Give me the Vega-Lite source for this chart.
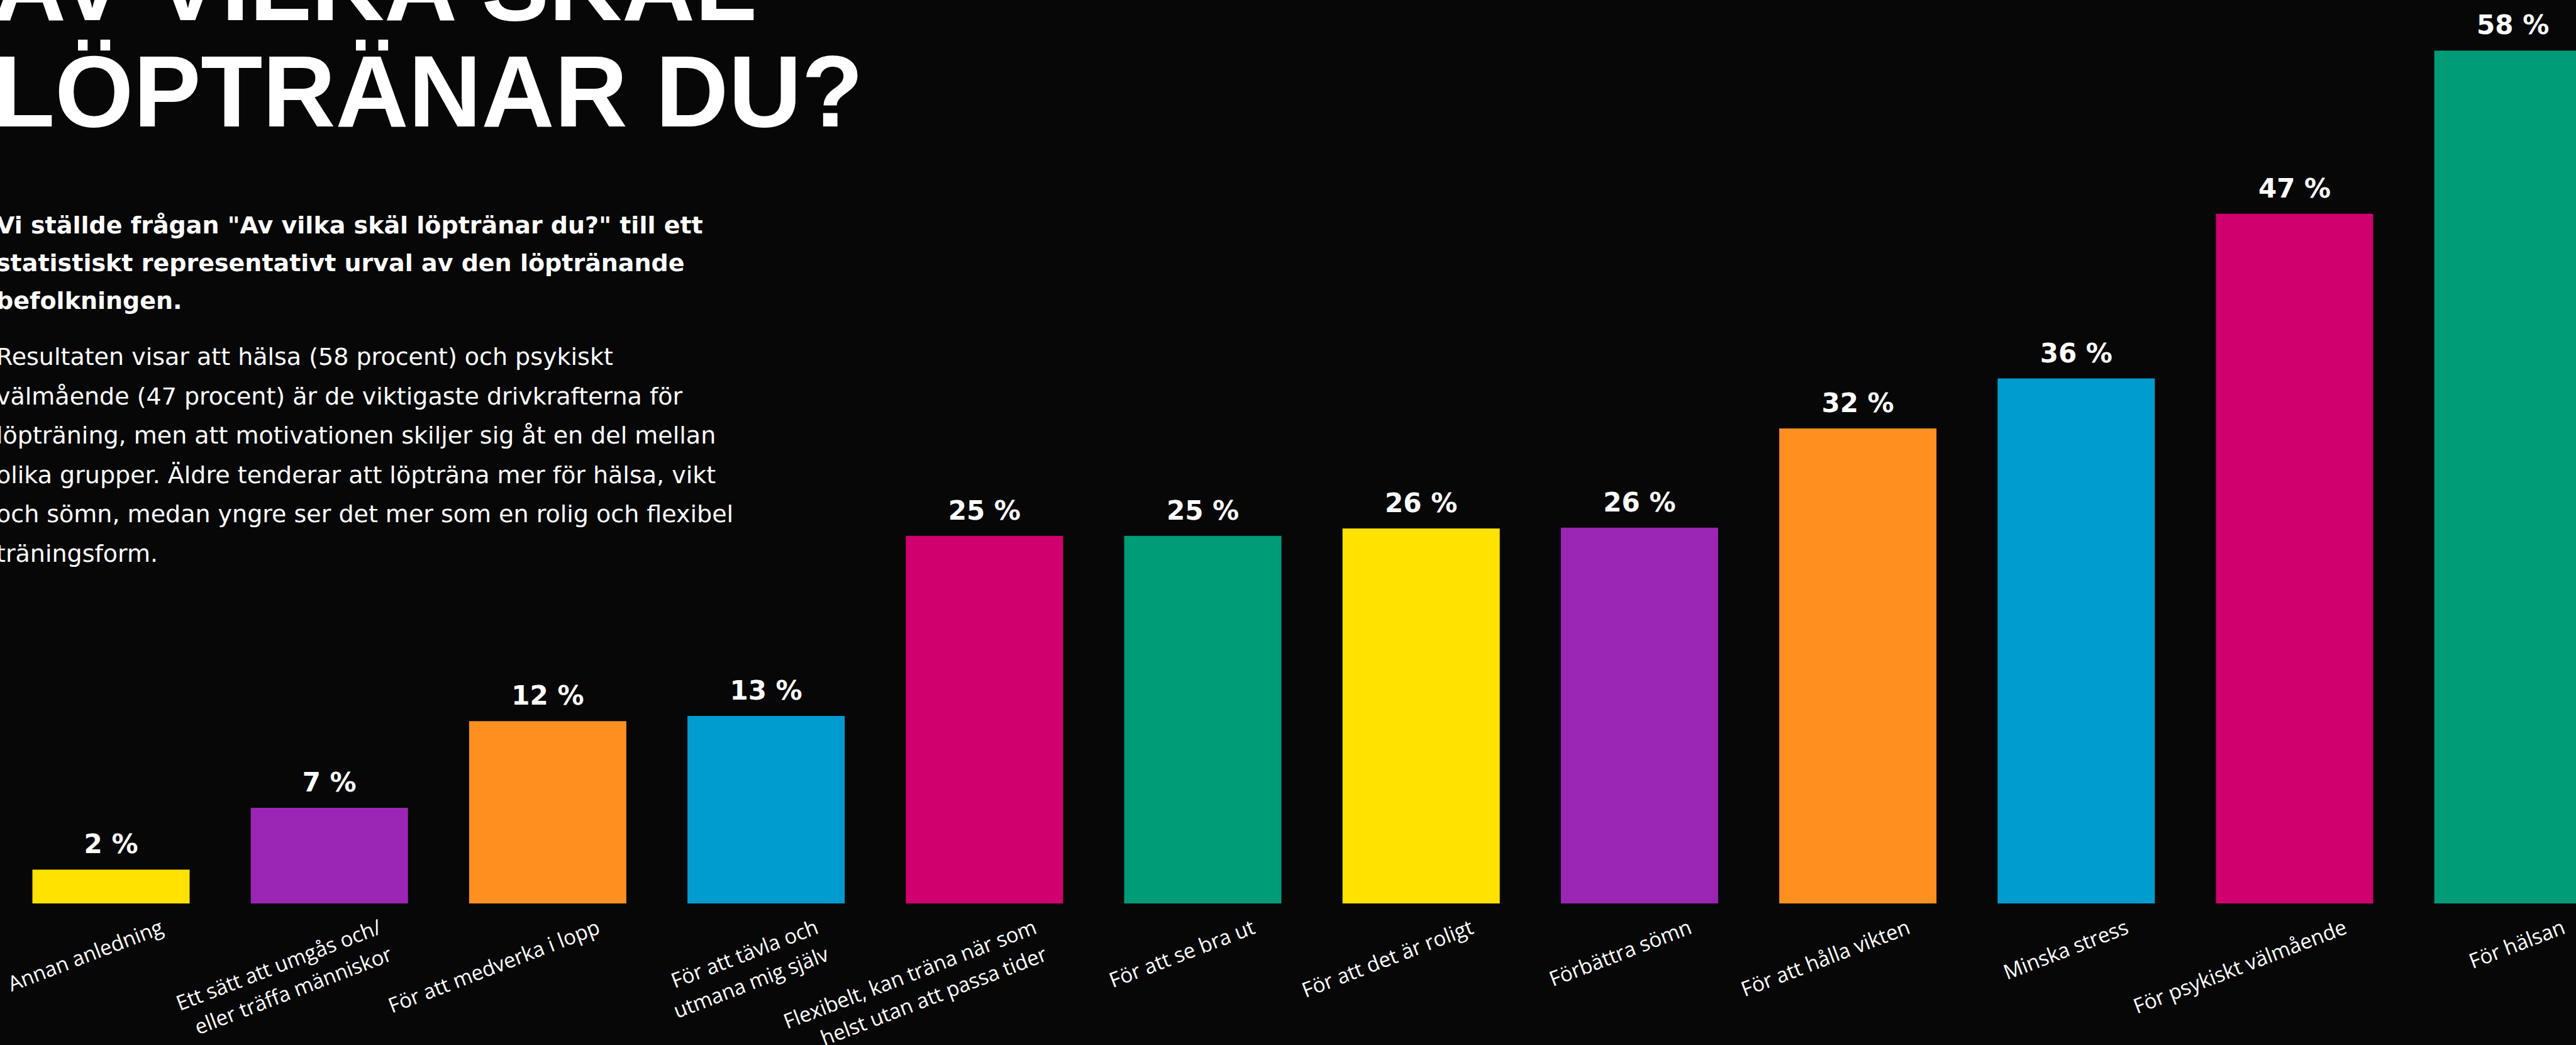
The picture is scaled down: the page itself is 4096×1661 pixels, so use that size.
{
  "$schema": "https://vega.github.io/schema/vega-lite/v6.json",
  "width": 4096,
  "height": 1436,
  "autosize": {"type": "none"},
  "padding": {"left": 0, "top": 0, "right": 0, "bottom": 225},
  "background": "#070707",
  "config": {"view": {"stroke": null}},
  "data": {
    "values": [
      {"reason": "Annan anledning", "value": 2.3, "label": "2 %"},
      {"reason": "Ett sätt att umgås och/\neller träffa människor", "value": 6.5, "label": "7 %"},
      {"reason": "För att medverka i lopp", "value": 12.4, "label": "12 %"},
      {"reason": "För att tävla och\nutmana mig själv", "value": 12.75, "label": "13 %"},
      {"reason": "Flexibelt, kan träna när som\nhelst utan att passa tider", "value": 25.0, "label": "25 %"},
      {"reason": "För att se bra ut", "value": 25.0, "label": "25 %"},
      {"reason": "För att det är roligt", "value": 25.5, "label": "26 %"},
      {"reason": "Förbättra sömn", "value": 25.55, "label": "26 %"},
      {"reason": "För att hålla vikten", "value": 32.3, "label": "32 %"},
      {"reason": "Minska stress", "value": 35.7, "label": "36 %"},
      {"reason": "För psykiskt välmående", "value": 46.9, "label": "47 %"},
      {"reason": "För hälsan", "value": 58.0, "label": "58 %"}
    ]
  },
  "encoding": {
    "x": {
      "field": "reason",
      "type": "nominal",
      "sort": null,
      "scale": {"range": [2.9, 4169.3], "paddingInner": 0.28, "paddingOuter": 0.14},
      "axis": {
        "title": null,
        "domain": false,
        "ticks": false,
        "tickSize": 0,
        "grid": false,
        "labelAngle": -21,
        "labelAlign": "right",
        "labelBaseline": "top",
        "labelFont": "Open Sans",
        "labelFontSize": 33,
        "labelColor": "#ffffff",
        "labelPadding": 22,
        "labelOffset": 76,
        "labelLineHeight": 46,
        "labelLimit": 0,
        "labelOverlap": false,
        "labelBound": false,
        "labelFlush": false,
        "labelExpr": "split(datum.label, '\\n')"
      }
    },
    "y": {
      "field": "value",
      "type": "quantitative",
      "scale": {"domain": [0, 61.44], "nice": false, "zero": true},
      "axis": null
    }
  },
  "layer": [
    {
      "mark": {"type": "bar"},
      "encoding": {
        "color": {
          "field": "reason",
          "type": "nominal",
          "legend": null,
          "scale": {
            "domain": [
              "Annan anledning",
              "Ett sätt att umgås och/\neller träffa människor",
              "För att medverka i lopp",
              "För att tävla och\nutmana mig själv",
              "Flexibelt, kan träna när som\nhelst utan att passa tider",
              "För att se bra ut",
              "För att det är roligt",
              "Förbättra sömn",
              "För att hålla vikten",
              "Minska stress",
              "För psykiskt välmående",
              "För hälsan"
            ],
            "range": ["#FFE200", "#9B26B6", "#FF9020", "#009CCF", "#D0006F", "#009C77", "#FFE200", "#9B26B6", "#FF9020", "#009CCF", "#D0006F", "#009C77"]
          }
        }
      }
    },
    {
      "mark": {"type": "text", "font": "DejaVu Sans", "fontWeight": "bold", "fontSize": 42, "color": "#ffffff", "align": "center", "baseline": "alphabetic", "dy": -26},
      "encoding": {"text": {"field": "label"}}
    },
    {
      "data": {"values": [{"block": "heading"}]},
      "mark": {"type": "text", "font": "Liberation Sans", "fontWeight": "bold", "fontSize": 160.7, "color": "#ffffff", "align": "left", "baseline": "alphabetic", "lineHeight": 169},
      "encoding": {
        "x": {"value": -11},
        "y": {"value": 31.6},
        "text": {"value": ["AV VILKA SKÄL", "LÖPTRÄNAR DU?"]}
      }
    },
    {
      "data": {"values": [{"block": "lead"}]},
      "mark": {"type": "text", "font": "DejaVu Sans", "fontWeight": "bold", "fontSize": 38, "color": "#ffffff", "align": "left", "baseline": "alphabetic", "lineHeight": 60.4},
      "encoding": {
        "x": {"value": -6},
        "y": {"value": 370.6},
        "text": {"value": ["Vi ställde frågan \"Av vilka skäl löptränar du?\" till ett", "statistiskt representativt urval av den löptränande", "befolkningen."]}
      }
    },
    {
      "data": {"values": [{"block": "body"}]},
      "mark": {"type": "text", "font": "DejaVu Sans", "fontSize": 38, "color": "#ffffff", "align": "left", "baseline": "alphabetic", "lineHeight": 62.5},
      "encoding": {
        "x": {"value": -6},
        "y": {"value": 580.2},
        "text": {"value": ["Resultaten visar att hälsa (58 procent) och psykiskt", "välmående (47 procent) är de viktigaste drivkrafterna för", "löpträning, men att motivationen skiljer sig åt en del mellan", "olika grupper. Äldre tenderar att löpträna mer för hälsa, vikt", "och sömn, medan yngre ser det mer som en rolig och flexibel", "träningsform."]}
      }
    }
  ]
}
